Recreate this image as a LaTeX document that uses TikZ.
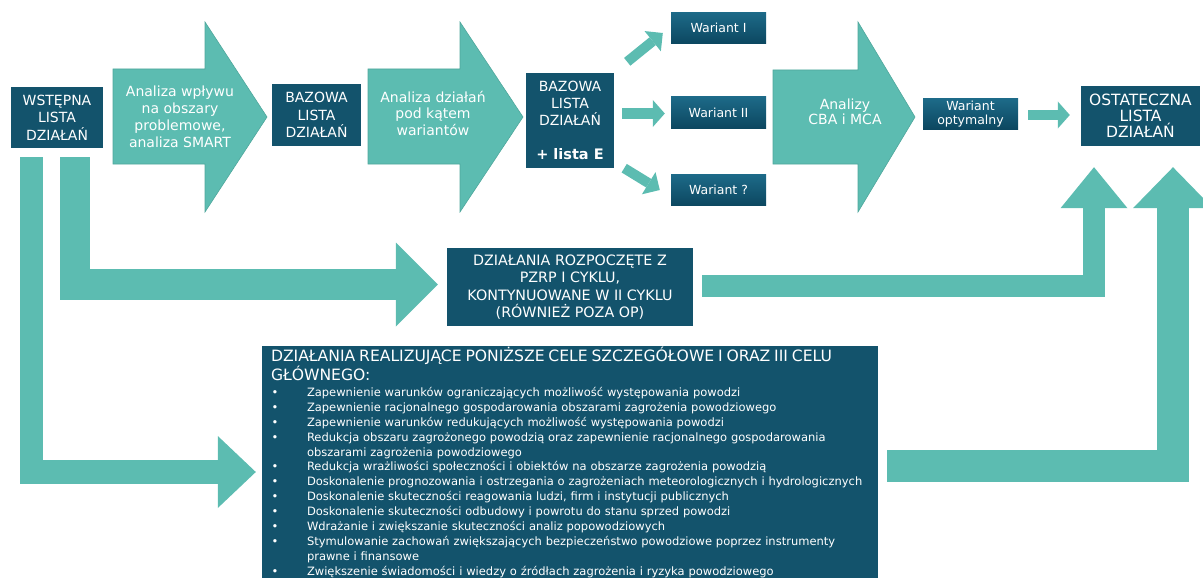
\documentclass[tikz,border=0pt]{standalone}
\usepackage{fontspec}
\setmainfont{DejaVu Sans}
\usetikzlibrary{arrows.meta,calc}
\definecolor{dk}{HTML}{13536C}
\definecolor{tl}{HTML}{5CBCB1}
\definecolor{tlb}{HTML}{4FA79C}
\definecolor{dkt}{HTML}{1D6A88}
\definecolor{dkb}{HTML}{0C4760}
\newcommand{\blt}{\makebox[36pt][l]{\hspace*{0.5pt}\textbullet}}
\newcommand{\cnt}{\hspace*{36pt}}
\begin{document}
\begin{tikzpicture}[x=1pt,y=-1pt,
  box/.style={fill=dk,text=white,inner sep=0pt,align=center,font=\fontsize{14}{17.5}\selectfont},
  var/.style={box,top color=dkt,bottom color=dkb,minimum width=95pt,minimum height=31pt,font=\fontsize{12.5}{14}\selectfont},
  blk/.style={fill=tl,draw=tlb,line width=0.6pt},
  atext/.style={text=white,align=center,inner sep=0pt},
  fat/.style={draw=tl,line width=#1,line join=miter},
]
\useasboundingbox (0,0) rectangle (1203,578);

% big block arrows
\path[blk] (113,69) -- (205,69) -- (205,22) -- (267,117) -- (205,212) -- (205,164) -- (113,164) -- cycle;
\path[blk] (368,69) -- (460,69) -- (460,22) -- (523,117) -- (460,212) -- (460,164) -- (368,164) -- cycle;
\path[blk] (773,70) -- (858,70) -- (858,22) -- (915,117) -- (858,212) -- (858,164) -- (773,164) -- cycle;
\node[atext,font=\fontsize{14}{17}\selectfont] (a1) at (180,117) {Analiza wpływu\\na obszary\\problemowe,\\analiza SMART};
\node[atext,font=\fontsize{14}{16.5}\selectfont] (a2) at (433,113) {Analiza działań\\pod kątem\\wariantów};
\node[atext,font=\fontsize{14}{15.5}\selectfont] (a3) at (845,112) {Analizy\\CBA i MCA};

% boxes
\node[box,minimum width=92pt,minimum height=61pt] (w) at (57,117.5) {WSTĘPNA\\LISTA\\DZIAŁAŃ};
\node[box,minimum width=89pt,minimum height=62pt] (b1) at (316.5,115) {BAZOWA\\LISTA\\DZIAŁAŃ};
\node[box,minimum width=88pt,minimum height=95pt,font=\fontsize{14}{17}\selectfont] (e) at (570,120.5) {BAZOWA\\LISTA\\DZIAŁAŃ\\[17pt]{\fontsize{14.5}{17}\selectfont\textbf{+ lista E}}};
\node[var] (v1) at (718.5,28) {Wariant I};
\node[var] (v2) at (718.5,112.5) {Wariant II};
\node[var] (v3) at (718.5,190) {Wariant ?};
\node[var,minimum height=30pt,font=\fontsize{12.5}{14}\selectfont] (opt) at (970.5,114) {Wariant\\optymalny};
\node[box,minimum width=119pt,minimum height=60pt,font=\fontsize{15.5}{16}\selectfont] (ost) at (1140.5,116) {OSTATECZNA\\LISTA\\DZIAŁAŃ};
\node[box,minimum width=246pt,minimum height=78pt,font=\fontsize{14.3}{17.3}\selectfont] (rozp) at (570,287) {DZIAŁANIA ROZPOCZĘTE Z\\PZRP I CYKLU,\\KONTYNUOWANE W II CYKLU\\(RÓWNIEŻ POZA OP)};
\node[box,minimum width=616pt,minimum height=236pt] (big) at (570,464) {};
\node[anchor=north west,text width=604pt,inner sep=0pt,align=left,text=white,font=\fontsize{11.5}{14.9}\selectfont] (bt) at ($(big.north west)+(9,1.5)$) {%
{\fontsize{15.6}{17}\selectfont DZIAŁANIA REALIZUJĄCE PONIŻSZE CELE SZCZEGÓŁOWE I ORAZ III CELU\\GŁÓWNEGO:\par}\vspace{1pt}
\blt Zapewnienie warunków ograniczających możliwość występowania powodzi\\
\blt Zapewnienie racjonalnego gospodarowania obszarami zagrożenia powodziowego\\
\blt Zapewnienie warunków redukujących możliwość występowania powodzi\\
\blt Redukcja obszaru zagrożonego powodzią oraz zapewnienie racjonalnego gospodarowania\\
\cnt obszarami zagrożenia powodziowego\\
\blt Redukcja wrażliwości społeczności i obiektów na obszarze zagrożenia powodzią\\
\blt Doskonalenie prognozowania i ostrzegania o zagrożeniach meteorologicznych i hydrologicznych\\
\blt Doskonalenie skuteczności reagowania ludzi, firm i instytucji publicznych\\
\blt Doskonalenie skuteczności odbudowy i powrotu do stanu sprzed powodzi\\
\blt Wdrażanie i zwiększanie skuteczności analiz popowodziowych\\
\blt Stymulowanie zachowań zwiększających bezpieczeństwo powodziowe poprzez instrumenty\\
\cnt prawne i finansowe\\
\blt Zwiększenie świadomości i wiedzy o źródłach zagrożenia i ryzyka powodziowego};

% connector end points
\coordinate (s1) at ($(w.south west)+(20.5,9)$);
\coordinate (t1) at ($(big.west)+(-6,8)$);
\coordinate (s2) at ($(w.south west)+(64,9)$);
\coordinate (t2) at ($(rozp.west)+(-9,-2.5)$);
\coordinate (s3) at ($(rozp.east)+(9,-1)$);
\coordinate (t3) at ($(ost.south)+(-46.5,21)$);
\coordinate (s4) at ($(big.east)+(9,2)$);
\coordinate (t4) at ($(ost.south)+(32.5,21)$);
\coordinate (u1) at ($(e.north east)+(13,-11)$);
\coordinate (u2) at ($(v1.west)+(-8,5)$);
\coordinate (d1) at ($(e.south east)+(10,0)$);
\coordinate (d2) at ($(v3.west)+(-11,0)$);

% connectors
\draw[fat=23.5pt,-{Triangle[length=38pt,width=72pt,line width=0pt]}] (s1) |- (t1);
\draw[fat=30.5pt,-{Triangle[length=42pt,width=84pt,line width=0pt]}] (s2) |- (t2);
\draw[fat=22pt,-{Triangle[length=41pt,width=67pt,line width=0pt]}] (s3) -| (t3);
\draw[fat=32pt,-{Triangle[length=41pt,width=80pt,line width=0pt]}] (s4) -| (t4);
\draw[fat=10pt,-{Triangle[length=13pt,width=26pt,line width=0pt]}] (u1) -- (u2);
\draw[fat=10pt,-{Triangle[length=12pt,width=27pt,line width=0pt]}] ($(e.east |- v2.west)+(8,1)$) -- ($(v2.west)+(-6,1)$);
\draw[fat=10pt,-{Triangle[length=13pt,width=26pt,line width=0pt]}] (d1) -- (d2);
\draw[fat=10pt,-{Triangle[length=12pt,width=27pt,line width=0pt]}] ($(opt.east)+(10,1)$) -- ($(ost.west)+(-11,-1)$);
\end{tikzpicture}
\end{document}
